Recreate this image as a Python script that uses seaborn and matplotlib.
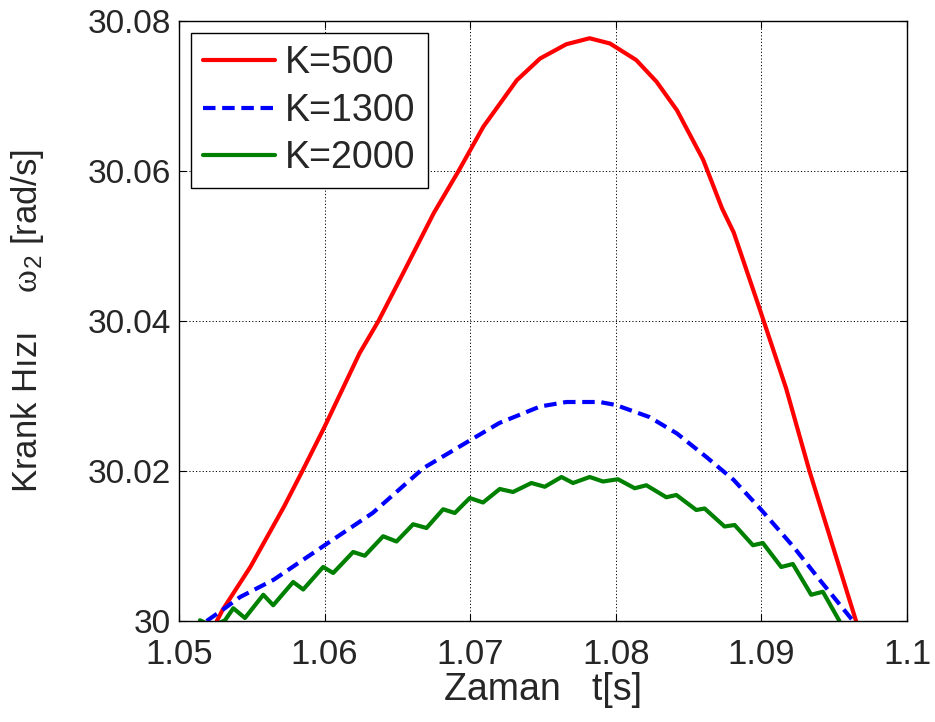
import numpy as np
import pandas as pd
import matplotlib
matplotlib.use("Agg")
import matplotlib.pyplot as plt
import seaborn as sns

# ---- data ----
t_k500 = [1.0526, 1.0530, 1.0549, 1.0572, 1.0585, 1.0600, 1.0612, 1.0624, 1.0637,
          1.0654, 1.0675, 1.0692, 1.0709, 1.0732, 1.0748, 1.0766, 1.0782, 1.0796,
          1.0814, 1.0828, 1.0842, 1.0860, 1.0873, 1.0881, 1.0899, 1.0917, 1.0933, 1.0965]
w_k500 = [30.0000, 30.0015, 30.0072, 30.0152, 30.0201, 30.0259, 30.0308, 30.0357, 30.0400,
          30.0464, 30.0544, 30.0600, 30.0659, 30.0721, 30.0750, 30.0769, 30.0777, 30.0770,
          30.0748, 30.0719, 30.0681, 30.0615, 30.0550, 30.0518, 30.0415, 30.0310, 30.0200, 30.0000]

t_k1300 = [1.0519, 1.0530, 1.0542, 1.0565, 1.0600, 1.0633, 1.0668, 1.0700, 1.0720,
           1.0734, 1.0748, 1.0766, 1.0789, 1.0800, 1.0823, 1.0842, 1.0862, 1.0881,
           1.0900, 1.0922, 1.0940, 1.0963]
w_k1300 = [30.0000, 30.0015, 30.0032, 30.0055, 30.0101, 30.0144, 30.0204, 30.0241, 30.0264,
           30.0275, 30.0286, 30.0292, 30.0292, 30.0288, 30.0272, 30.0250, 30.0219, 30.0188,
           30.0148, 30.0099, 30.0055, 30.0000]

t_k2000 = [1.05144, 1.0523, 1.05316, 1.05373, 1.05453, 1.05579, 1.05647, 1.05784, 1.05853,
           1.05990, 1.06059, 1.06196, 1.06276, 1.06402, 1.06494, 1.06608, 1.06700, 1.06814,
           1.06894, 1.06997, 1.07088, 1.07203, 1.07294, 1.07420, 1.07512, 1.07627, 1.07706,
           1.07821, 1.07912, 1.08015, 1.08130, 1.08210, 1.08347, 1.08416, 1.08553, 1.08610,
           1.08747, 1.08816, 1.08942, 1.09010, 1.09136, 1.09216, 1.09342, 1.09422, 1.09536]
w_k2000 = [30.0001, 29.9993, 30.0001, 30.0017, 30.0004, 30.0035, 30.0021, 30.0052, 30.0042,
           30.0072, 30.0064, 30.0092, 30.0087, 30.0113, 30.0106, 30.0129, 30.0124, 30.0149,
           30.0144, 30.0164, 30.0158, 30.0176, 30.0172, 30.0184, 30.0179, 30.0192, 30.0184,
           30.0192, 30.0186, 30.0189, 30.0177, 30.0181, 30.0165, 30.0168, 30.0148, 30.0150,
           30.0126, 30.0128, 30.0101, 30.0104, 30.0072, 30.0076, 30.0035, 30.0039, 30.0000]

labels = ["K=500", "K=1300", "K=2000"]
x_ticks = [1.05, 1.06, 1.07, 1.08, 1.09, 1.1]
x_ticklabels = ["1.05", "1.06", "1.07", "1.08", "1.09", "1.1"]
y_ticks = [30.0, 30.02, 30.04, 30.06, 30.08]
y_ticklabels = ["30", "30.02", "30.04", "30.06", "30.08"]

frames = []
for lab, t, w in zip(labels, [t_k500, t_k1300, t_k2000], [w_k500, w_k1300, w_k2000]):
    frames.append(pd.DataFrame({"t": t, "w": w, "K": lab}))
df = pd.concat(frames, ignore_index=True)

sns.set_theme(style="white")
plt.rcParams['font.family'] = ['Liberation Sans', 'DejaVu Sans']
plt.rcParams['mathtext.fontset'] = 'custom'
plt.rcParams['mathtext.rm'] = 'Liberation Serif'
plt.rcParams['mathtext.it'] = 'Liberation Serif'
plt.rcParams['mathtext.sf'] = 'Liberation Sans'

fig = plt.figure(figsize=(9.35, 7.22), dpi=100)
ax = fig.add_axes([179/935, 1 - 621/722, (907 - 179)/935, (621 - 21)/722])

palette = {"K=500": "#ff0000", "K=1300": "#0000ff", "K=2000": "#008000"}
dashes = {"K=500": "", "K=1300": (3.0, 1.6), "K=2000": ""}
sns.lineplot(data=df, x="t", y="w", hue="K", style="K", hue_order=labels, style_order=labels,
             palette=palette, dashes=dashes, sort=False, estimator=None,
             linewidth=3, ax=ax)

ax.set_xlim(1.05, 1.1)
ax.set_ylim(30.0, 30.08)
ax.set_xticks(x_ticks)
ax.set_xticklabels(x_ticklabels)
ax.set_yticks(y_ticks)
ax.set_yticklabels(y_ticklabels)
ax.tick_params(axis='both', direction='in', length=5, width=0.8, color='black',
               top=True, right=True, bottom=True, left=True)
ax.tick_params(axis='x', labelsize=25, pad=12)
ax.tick_params(axis='y', labelsize=24, pad=6)
ax.grid(True, color='black', linestyle=(0, (1.2, 2.2)), linewidth=0.7)
for s in ax.spines.values():
    s.set_visible(True)
    s.set_color('black')
    s.set_linewidth(1.0)

ax.set_xlabel("Zaman   t[s]", fontsize=27, labelpad=1)
ax.set_ylabel(r"Krank Hızı    $\mathrm{\omega}_{\mathsf{2}}$ [rad/s]", fontsize=25, labelpad=30)

leg = ax.legend(loc='upper left', bbox_to_anchor=(0.0165, 0.98), fontsize=27,
                frameon=True, fancybox=False, edgecolor='black', framealpha=1,
                handlelength=1.9, handletextpad=0.28, borderpad=0.33, labelspacing=0.3,
                borderaxespad=0)
leg.get_frame().set_linewidth(1.0)
for line in leg.get_lines():
    line.set_linewidth(3)

fig.savefig("out.png", dpi=100, facecolor='white')
